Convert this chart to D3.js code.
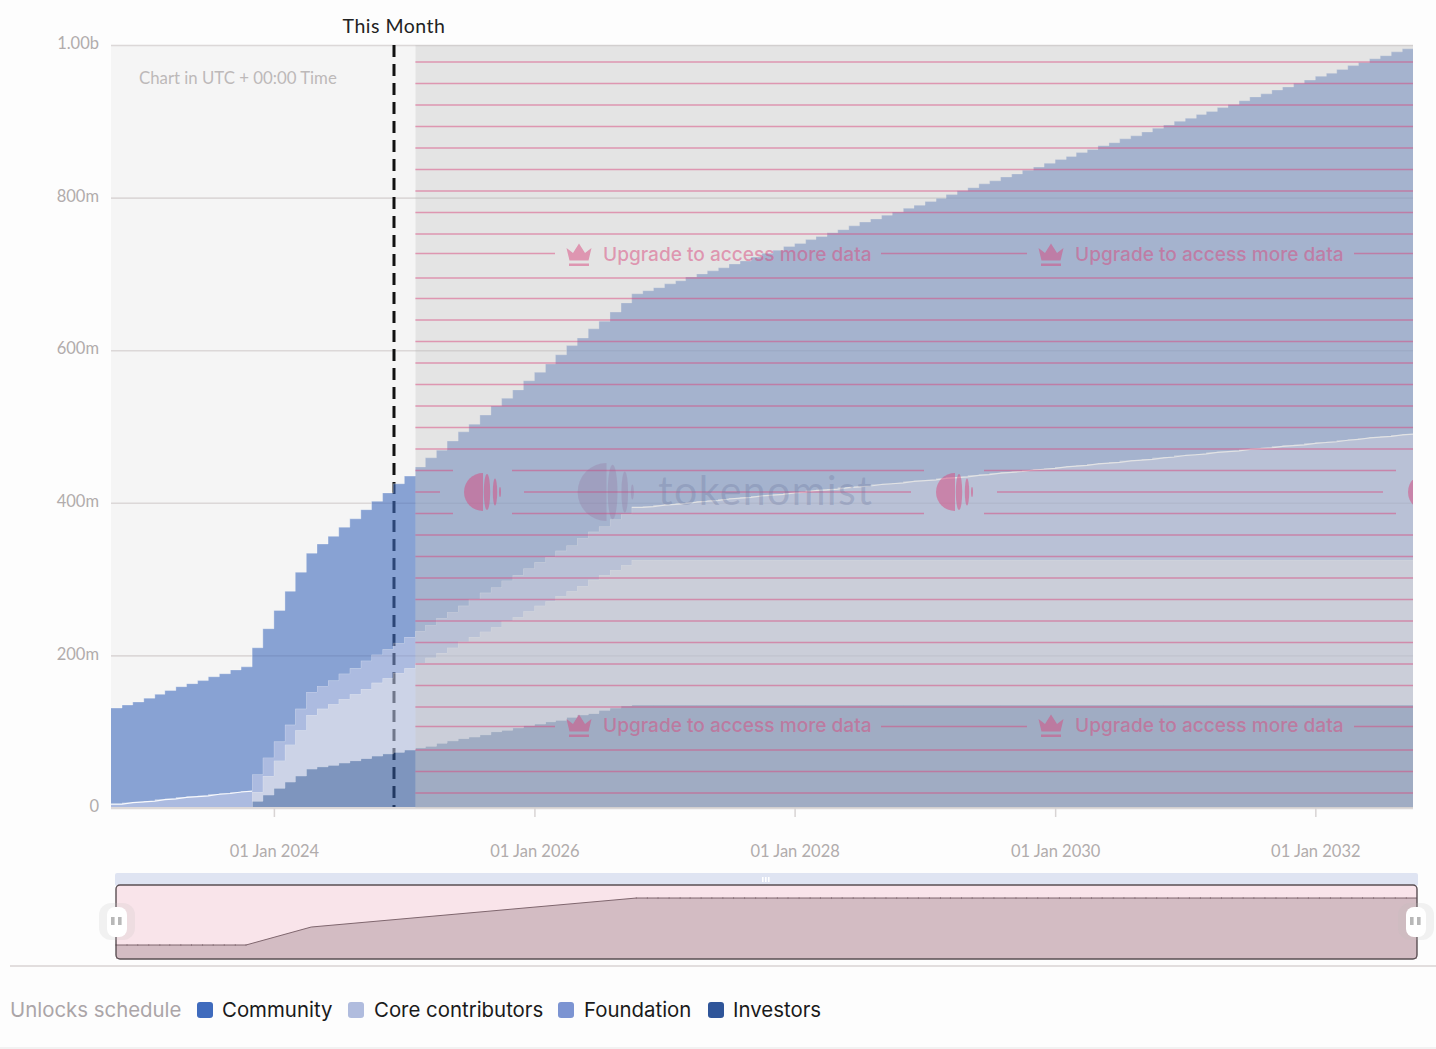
<!DOCTYPE html>
<html>
<head>
<meta charset="utf-8">
<script src="https://cdn.jsdelivr.net/npm/d3@7"></script>
<style>
  html, body { margin: 0; padding: 0; background: #fdfdfd; overflow: hidden; }
  svg { display: block; }
  .axis-text { font-family: "Lato", sans-serif; font-size: 16.5px; fill: #b1acac; }
</style>
</head>
<body>
<div id="chart"></div>
<script>
// Values in millions of tokens, one per month from Oct 2022
const investors = [0,0,0,0,0,0,0,0,0,0,0,0,0,
  9,17,26,34,42,51,54,56,59,62,65,68,71,73,76,
  79,81,85,88,91,93,96,100,102,105,108,110,113,115,119,122,124,128,131,134,
  135,135,135,135,135,135,135,135,135,135,135,135,135,135,135,135,135,135,135,135,135,135,135,135,
  135,135,135,135,135,135,135,135,135,135,135,135,135,135,135,135,135,135,135,135,135,135,135,135,
  135,135,135,135,135,135,135,135,135,135,135,135,135,135,135,135,135,135,135,135,135,135,135,135];
const coreContributors = [0,0,0,0,0,0,0,0,0,0,0,0,0,
  12,25,36,49,60,71,76,80,84,87,91,96,99,104,107,
  111,116,118,122,127,131,135,137,143,145,150,155,158,163,165,169,175,177,181,184,
  190,190,190,190,190,190,190,190,190,190,190,190,190,190,190,190,190,190,190,190,190,190,190,190,
  190,190,190,190,190,190,190,190,190,190,190,190,190,190,190,190,190,190,190,190,190,190,190,190,
  190,190,190,190,190,190,190,190,190,190,190,190,190,190,190,190,190,190,190,190,190,190,190,190];
const foundation = [5,7,8,9,11,12,14,15,16,18,19,21,22,
  23,24,25,26,28,30,30,31,33,34,37,37,38,39,41,
  42,43,46,47,47,50,51,52,53,55,56,57,58,59,60,63,63,64,66,67,69,
  70,72,73,74,76,77,78,80,81,82,84,85,86,88,89,91,92,93,95,96,97,99,100,101,103,104,105,107,108,109,
  111,112,114,115,116,118,119,120,122,123,124,126,127,128,130,131,132,134,135,137,138,139,141,142,143,
  145,146,147,149,150,151,153,154,155,157,158,160,161,162,164,165];
const community = [126,128,131,135,138,142,145,148,151,154,157,160,163,
  166,169,172,175,179,182,186,189,192,196,198,201,205,209,211,
  215,219,220,224,228,229,233,238,239,243,246,249,253,257,262,262,266,269,272,277,280,
  283,285,289,292,295,298,301,303,307,310,313,317,320,323,326,329,332,336,338,342,346,348,352,355,358,
  361,365,367,371,375,377,381,383,387,390,393,396,400,403,406,410,412,416,419,422,425,429,432,435,438,
  441,445,447,451,454,457,461,464,467,470,474,476,480,483,486,490,492,496,499,502,505];

const seriesNames = ['Community', 'Core contributors', 'Foundation', 'Investors'];
const seriesColors = ['#3f6bbd', '#b0bcde', '#7c94d2', '#2f5599'];

const yTicks = [0, 200, 400, 600, 800, 1000];
const yTickLabels = ['0', '200m', '400m', '600m', '800m', '1.00b'];
const xTickYears = [2024, 2026, 2028, 2030, 2032];

// Overview strip under the chart
const overviewMonths = [0, 12, 18, 48, 120];
const overviewValues = [189, 189, 432, 824, 824];

const months = d3.utcMonth.range(new Date(Date.UTC(2022, 9, 1)), new Date(Date.UTC(2032, 9, 1)));
const endDate = new Date(Date.UTC(2032, 9, 1));
const thisMonth = new Date(Date.UTC(2024, 11, 3));
const lockedFrom = new Date(Date.UTC(2025, 1, 1));

const rows = months.map((m, i) => ({
  date: m,
  Investors: investors[i],
  'Core contributors': coreContributors[i],
  Foundation: foundation[i],
  Community: community[i]
}));
// repeat the last month so the steps reach the right edge
rows.push({ ...rows[rows.length - 1], date: endDate });

const svg = d3.select('#chart').append('svg').attr('width', 1436).attr('height', 1049);

const x = d3.scaleUtc().domain([months[0], endDate]).range([111, 1413]);
const y = d3.scaleLinear().domain([0, 1000]).range([808, 45]);

// Plot background
svg.append('rect').attr('x', 111).attr('y', 45).attr('width', 304).attr('height', 763).attr('fill', '#f5f5f5');

// Grid lines and y axis
const yAxis = svg.append('g')
  .attr('transform', 'translate(111,0)')
  .call(d3.axisLeft(y).tickValues(yTicks).tickSize(-1302).tickPadding(12)
    .tickFormat((d, i) => yTickLabels[i]));
yAxis.select('.domain').remove();
yAxis.selectAll('line').attr('stroke', '#dcd8d8').attr('stroke-width', 1.6);
yAxis.selectAll('text').attr('class', 'axis-text').attr('dy', '0.22em');
yAxis.attr('font-family', null).attr('font-size', null);

// This Month marker sits under the areas
svg.append('line')
  .attr('x1', x(thisMonth)).attr('x2', x(thisMonth))
  .attr('y1', 45).attr('y2', 808)
  .attr('stroke', '#111').attr('stroke-width', 3).attr('stroke-dasharray', '12 7');
svg.append('text')
  .attr('x', x(thisMonth)).attr('y', 33)
  .attr('text-anchor', 'middle')
  .style('font-family', '"Lato", sans-serif')
  .style('font-size', '19.5px')
  .style('letter-spacing', '0.5px')
  .attr('fill', '#222')
  .text('This Month');

svg.append('text')
  .attr('x', 139).attr('y', 84)
  .style('font-family', '"Lato", sans-serif')
  .style('font-size', '16.8px')
  .attr('fill', '#bdb9b9')
  .text('Chart in UTC + 00:00 Time');

// Stacked step areas
const stackKeys = ['Investors', 'Core contributors', 'Foundation', 'Community'];
const stacks = d3.stack().keys(stackKeys)(rows);
const color = d3.scaleOrdinal().domain(seriesNames).range(seriesColors);

const area = d3.area().curve(d3.curveStepAfter)
  .x((d) => x(d.data.date)).y0((d) => y(d[0])).y1((d) => y(d[1]));
const topLine = d3.line().curve(d3.curveStepAfter)
  .x((d) => x(d.data.date)).y((d) => y(d[1]));

stacks.forEach((s) => {
  svg.append('path').datum(s)
    .attr('d', area)
    .attr('fill', color(s.key))
    .attr('fill-opacity', 0.6);
  svg.append('path').datum(s)
    .attr('d', topLine)
    .attr('fill', 'none')
    .attr('stroke', '#fff')
    .attr('stroke-opacity', 0.3);
});

// Foundation top reads as a smooth white line where its steps are small
const foundationTop = stacks[2];
const smoothPart = (from, to) => {
  const pts = [[x(rows[from].date), y(foundationTop[from][1])]];
  d3.range(from, to + 1).forEach((i) => {
    pts.push([x(rows[i + 1].date), y(foundationTop[i][1])]);
  });
  return pts;
};
[smoothPart(0, 12), smoothPart(48, 119)].forEach((pts) => {
  svg.append('path').datum(pts)
    .attr('d', d3.line())
    .attr('fill', 'none')
    .attr('stroke', '#fff')
    .attr('stroke-width', 1.2)
    .attr('stroke-opacity', 0.9);
});

// X axis
const xAxis = svg.append('g')
  .attr('transform', 'translate(0,808)')
  .call(d3.axisBottom(x)
    .tickValues(xTickYears.map((yr) => new Date(Date.UTC(yr, 0, 1))))
    .tickSize(9).tickPadding(28)
    .tickFormat(d3.utcFormat('%d %b %Y')));
xAxis.select('.domain').attr('stroke', '#dcd8d8').attr('stroke-width', 2).attr('d', 'M111,0H1413');
xAxis.selectAll('line').attr('stroke', '#d8d4d4').attr('stroke-width', 1.5);
xAxis.selectAll('text').attr('class', 'axis-text').attr('fill', null);
xAxis.attr('font-family', null).attr('font-size', null);

// Locked part of the chart
const lockX = x(lockedFrom);
svg.append('rect')
  .attr('x', lockX).attr('y', 45).attr('width', 1413 - lockX).attr('height', 763)
  .attr('fill', 'rgb(198,198,198)').attr('fill-opacity', 0.45);

svg.append('clipPath').attr('id', 'lockClip').append('rect')
  .attr('x', lockX).attr('y', 45).attr('width', 1413 - lockX).attr('height', 763);
const lock = svg.append('g').attr('clip-path', 'url(#lockClip)');
const pink = 'rgb(216,72,125)';

d3.range(35).forEach((k) => {
  const isText = k === 9 || k === 31;
  const ly = 62 + k * 21.5 - (isText ? 2 : 0) + (k === 10 ? 1 : 0);
  let segs = [[415, 1413]];
  if (isText) segs = [[415, 555], [881, 1027], [1354, 1413]];
  if (k === 19 || k === 21) segs = [[415, 453], [512, 924], [984, 1396]];
  if (k === 20) segs = [[415, 440], [524, 911], [997, 1383]];
  segs.forEach((sg) => {
    lock.append('line')
      .attr('x1', sg[0]).attr('x2', sg[1]).attr('y1', ly).attr('y2', ly)
      .attr('stroke', pink).attr('stroke-opacity', 0.5).attr('stroke-width', 1.5);
  });
});

const drawCrown = (g, cx, cy) => {
  g.append('path')
    .attr('transform', `translate(${cx},${cy})`)
    .attr('fill', pink).attr('fill-opacity', 0.5)
    .attr('d', 'M-12.5,-6 L-6,-1 L0,-10.5 L6,-1 L12.5,-6 L9.5,6.5 L-9.5,6.5 Z M-10,9.5 H10 V12 H-10 Z');
};
[579, 1051].forEach((cx) => {
  [254, 725].forEach((cy) => {
    drawCrown(lock, cx, cy);
    lock.append('text')
      .attr('x', cx + 24).attr('y', cy + 6.5)
      .style('font-family', '"Inter", sans-serif')
      .style('font-weight', 500)
      .style('font-size', '19.1px')
      .attr('fill', pink).attr('fill-opacity', 0.5)
      .text('Upgrade to access more data');
  });
});

// Tokenomist logo: a disc cut on the right and three slim ellipses
const drawLogo = (g, cx, cy, s, fill, opacity) => {
  const logo = g.append('g').attr('transform', `translate(${cx},${cy}) scale(${s})`)
    .attr('fill', fill).attr('fill-opacity', opacity);
  logo.append('path').attr('d', 'M1,-19 A19,19 0 1,0 1,19 Z');
  logo.append('ellipse').attr('cx', 5).attr('rx', 3.2).attr('ry', 18);
  logo.append('ellipse').attr('cx', 13).attr('rx', 2.2).attr('ry', 13.5);
  logo.append('ellipse').attr('cx', 18).attr('rx', 1).attr('ry', 5);
};
[482, 954, 1426].forEach((cx) => drawLogo(lock, cx, 492, 1, pink, 0.5));
drawLogo(lock, 605, 492, 1.52, 'rgb(140,90,140)', 0.22);
lock.append('text')
  .attr('x', 658).attr('y', 505)
  .style('font-family', '"Lato", sans-serif')
  .style('font-size', '41px')
  .style('letter-spacing', '1.4px')
  .attr('fill', 'rgb(110,120,160)').attr('fill-opacity', 0.33)
  .text('tokenomist');

// Overview strip
const overviewX = d3.scaleUtc().domain([months[0], endDate]).range([116, 1417]);
const overviewY = d3.scaleLinear().domain([0, 1000]).range([959, 885]);
const overview = svg.append('g');
overview.append('rect').attr('x', 115).attr('y', 873).attr('width', 1303).attr('height', 13).attr('rx', 2).attr('fill', '#dfe4f2');
[-3, 0, 3].forEach((dx) => {
  overview.append('rect').attr('x', 765 + dx).attr('y', 877).attr('width', 1.6).attr('height', 5).attr('fill', '#fff');
});
overview.append('rect').attr('x', 116).attr('y', 885).attr('width', 1301).attr('height', 74).attr('rx', 4).attr('fill', '#f9e4ea');

const overviewDates = overviewMonths.map((m) => d3.utcMonth.offset(months[0], m));
const overviewArea = d3.area()
  .x((d, i) => overviewX(overviewDates[i]))
  .y0(overviewY(0))
  .y1((d) => overviewY(d));
const overviewLine = d3.line()
  .x((d, i) => overviewX(overviewDates[i]))
  .y((d) => overviewY(d));
overview.append('path').datum(overviewValues).attr('d', overviewArea).attr('fill', '#d3bcc3');
overview.append('path').datum(overviewValues).attr('d', overviewLine).attr('fill', 'none').attr('stroke', '#7f666e').attr('stroke-width', 1);

// small monthly ticks where the overview line runs flat
months.forEach((m, i) => {
  if (i > 12 && i < 48) return;
  const v = i <= 12 ? overviewValues[0] : overviewValues[3];
  overview.append('line')
    .attr('x1', overviewX(m)).attr('x2', overviewX(m))
    .attr('y1', overviewY(v) - 1).attr('y2', overviewY(v) + 1)
    .attr('stroke', '#7f666e').attr('stroke-opacity', 0.6);
});

overview.append('rect').attr('x', 116).attr('y', 885).attr('width', 1301).attr('height', 74).attr('rx', 4)
  .attr('fill', 'none').attr('stroke', '#5a4f53').attr('stroke-width', 1.4);

[117, 1416].forEach((cx) => {
  overview.append('rect').attr('x', cx - 18).attr('y', 903).attr('width', 36).attr('height', 37).attr('rx', 12).attr('fill', '#bbb').attr('fill-opacity', 0.18);
  overview.append('rect').attr('x', cx - 10).attr('y', 907).attr('width', 20).attr('height', 30).attr('rx', 8).attr('fill', '#fff');
  [-6, 1].forEach((dx) => {
    overview.append('rect').attr('x', cx + dx).attr('y', 917).attr('width', 3.6).attr('height', 8).attr('fill', '#b8b8b8');
  });
});

// Divider and legend
svg.append('line').attr('x1', 10).attr('x2', 1436).attr('y1', 966).attr('y2', 966).attr('stroke', '#d8d3d3').attr('stroke-width', 1.6);
svg.append('line').attr('x1', 0).attr('x2', 1436).attr('y1', 1048).attr('y2', 1048).attr('stroke', '#eeeeee').attr('stroke-width', 1.5);

svg.append('text')
  .attr('x', 10).attr('y', 1017)
  .style('font-family', '"Inter", sans-serif')
  .style('font-size', '20.4px')
  .attr('fill', '#aba5a8')
  .text('Unlocks schedule');

const legendX = [197, 348, 558, 708];
const legendTextX = [222, 374, 584, 733];
seriesNames.forEach((name, i) => {
  svg.append('rect')
    .attr('x', legendX[i]).attr('y', 1002).attr('width', 16).attr('height', 16).attr('rx', 3)
    .attr('fill', seriesColors[i]);
  svg.append('text')
    .attr('x', legendTextX[i]).attr('y', 1017)
    .style('font-family', '"Inter", sans-serif')
    .style('font-size', '20.4px')
    .attr('fill', '#1a1a1a')
    .text(name);
});
</script>
</body>
</html>
